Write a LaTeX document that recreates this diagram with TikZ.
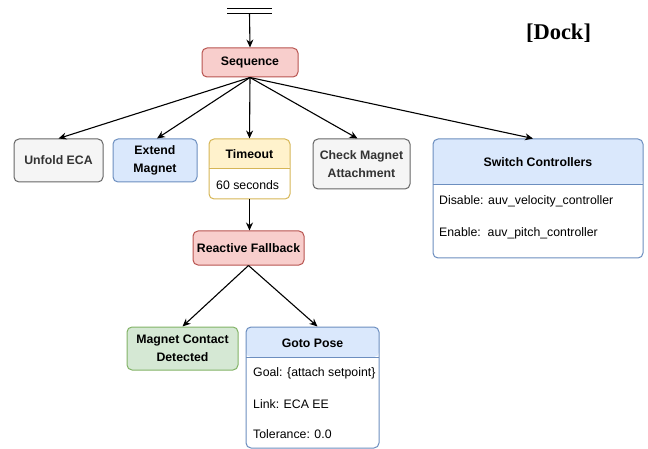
\documentclass[tikz,border=0pt]{standalone}
\usepackage{fontspec}
\setmainfont{Liberation Sans}
\newfontfamily\titleserif{Liberation Serif}
\usetikzlibrary{arrows.meta,calc}

\definecolor{redfill}{HTML}{F8CECC}\definecolor{redline}{HTML}{B85450}
\definecolor{grayfill}{HTML}{F5F5F5}\definecolor{grayline}{HTML}{666666}\definecolor{graytext}{HTML}{333333}
\definecolor{bluefill}{HTML}{DAE8FC}\definecolor{blueline}{HTML}{6C8EBF}
\definecolor{yellowfill}{HTML}{FFF2CC}\definecolor{yellowline}{HTML}{D6B656}
\definecolor{greenfill}{HTML}{D5E8D4}\definecolor{greenline}{HTML}{82B366}

\tikzset{
  box/.style={draw, line width=1pt, rounded corners=5pt, align=center, inner sep=0pt,
    font=\fontsize{12.3}{17.5}\selectfont\bfseries},
  redbox/.style={box, fill=redfill, draw=redline},
  graybox/.style={box, fill=grayfill, draw=grayline, text=graytext},
  bluebox/.style={box, fill=bluefill, draw=blueline},
  greenbox/.style={box, fill=greenfill, draw=greenline},
  % container with a coloured header band of height #2
  container/.style 2 args={draw=#1line, line width=1pt, rounded corners=5pt, fill=white, inner sep=0pt,
    path picture={\fill[#1fill] (path picture bounding box.north west) rectangle
      ([yshift=-#2]path picture bounding box.north east);
      \draw[#1line, line width=1pt] ([yshift=-#2]path picture bounding box.north west) --
      ([yshift=-#2]path picture bounding box.north east);}},
  title/.style={font=\fontsize{12.3}{15}\selectfont\bfseries, inner sep=0pt},
  body/.style={font=\fontsize{12.3}{15}\selectfont, inner sep=0pt, anchor=west},
  link/.style={line width=1.1pt, -{Stealth[length=8pt,width=7pt]}}
}

\begin{document}
\begin{tikzpicture}[x=1pt,y=-1pt]
\useasboundingbox (0,0) rectangle (648,449);

% root marker
\coordinate (rootL1) at (227,8.5);  \coordinate (rootR1) at (272,8.5);
\coordinate (rootL2) at (227,13.3); \coordinate (rootR2) at (272,13.3);
\coordinate (root) at (249.5,13.3);
\draw[line width=1pt] (rootL1) -- (rootR1) (rootL2) -- (rootR2);

% title
\node[font=\titleserif\fontsize{22.5}{26}\selectfont\bfseries, inner sep=0pt] (dock) at (558.5,33) {[Dock]};

% sequence
\node[redbox, minimum width=96pt, minimum height=29pt] (seq) at (250,62.5) {Sequence};

% children of the sequence
\node[graybox, minimum width=89pt, minimum height=43pt] (unfold) at (58.5,160.5) {Unfold ECA};
\node[bluebox, minimum width=84pt, minimum height=43pt] (extend) at (155,160.5) {Extend\\Magnet};
\node[container={yellow}{30pt}, minimum width=81pt, minimum height=60pt] (timeout) at (249.5,169) {};
\node[title] (timeoutT) at (249.5,154.5) {Timeout};
\node[body] (timeoutB) at (216,185) {60 seconds};
\node[graybox, minimum width=97pt, minimum height=50pt] (check) at (361.5,164) {Check Magnet\\Attachment};
\node[container={blue}{46pt}, minimum width=210pt, minimum height=119pt] (switch) at (538,198.5) {};
\node[title] (switchT) at (538,162) {Switch Controllers};
\node[body] (switchB1) at (439,201.5) {Disable: auv\_velocity\_controller};
\node[body] (switchB2) at (439,233.5) {Enable:\ \ auv\_pitch\_controller};

% fallback subtree
\node[redbox, minimum width=111pt, minimum height=34pt] (fallback) at (248.5,248) {Reactive Fallback};
\node[greenbox, minimum width=111pt, minimum height=43pt] (contact) at (182.5,348.5) {Magnet Contact\\Detected};
\node[container={blue}{30pt}, minimum width=133pt, minimum height=121pt] (goto) at (312.5,387.5) {};
\node[title] (gotoT) at (312.5,343) {Goto Pose};
\node[body] (gotoB1) at (253,373.5) {Goal: \{attach setpoint\}};
\node[body] (gotoB2) at (253,404) {Link: ECA EE};
\node[body] (gotoB3) at (253,434.5) {Tolerance: 0.0};

% connectors
\draw[link] (root) -- (seq.north);
\draw[link] (seq.south) -- (unfold.north);
\draw[link] (seq.south) -- ([xshift=2pt]extend.north);
\draw[link] (seq.south) -- (timeout.north);
\draw[link] (seq.south) -- ([xshift=-4pt]check.north);
\draw[link] (seq.south) -- ([xshift=-5pt]switch.north);
\draw[link] (timeout.south) -- (fallback.north -| timeout.south);
\draw[link] (fallback.south) -- (contact.north);
\draw[link] (fallback.south) -- ([xshift=5pt]goto.north);
\end{tikzpicture}
\end{document}
